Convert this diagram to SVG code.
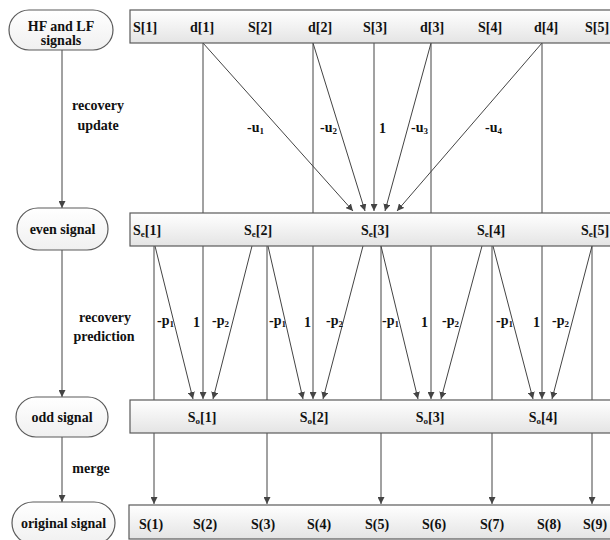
<svg xmlns="http://www.w3.org/2000/svg" width="610" height="540" viewBox="0 0 610 540">
<defs>
<linearGradient id="gb" x1="0" y1="0" x2="0" y2="1"><stop offset="0" stop-color="#ffffff"/><stop offset="1" stop-color="#e4e4e4"/></linearGradient>
<linearGradient id="gp" x1="0" y1="0" x2="0" y2="1"><stop offset="0" stop-color="#ffffff"/><stop offset="1" stop-color="#f0f0f0"/></linearGradient>
<marker id="ar" viewBox="0 0 10 10" refX="10" refY="5" markerWidth="7" markerHeight="7" markerUnits="userSpaceOnUse" orient="auto"><path d="M0,0 L10,5 L0,10 z" fill="#444"/></marker>
<style>
.bar{fill:url(#gb);stroke:#5a5a5a;stroke-width:1.2}
.pill{fill:url(#gp);stroke:#5a5a5a;stroke-width:1.2}
.t{font-family:"Liberation Serif","Times New Roman",serif;font-weight:bold;font-size:14px;fill:#111}
.m{text-anchor:middle}
.sub{font-size:9px}
.c line{stroke:#444;stroke-width:1}
.c .a{marker-end:url(#ar)}
</style>
</defs>

<g id="connectors" class="c">
<line class="a" x1="62" y1="50" x2="62" y2="208"/>
<line class="a" x1="62" y1="250" x2="62" y2="397"/>
<line class="a" x1="62" y1="437" x2="62" y2="502"/>
<line x1="203" y1="43" x2="203" y2="213"/>
<line x1="313" y1="43" x2="313" y2="213"/>
<line x1="431" y1="43" x2="431" y2="213"/>
<line x1="542" y1="43" x2="542" y2="213"/>
<line class="a" x1="203" y1="43" x2="353" y2="211"/>
<line class="a" x1="313" y1="43" x2="365" y2="211"/>
<line class="a" x1="374" y1="43" x2="374" y2="211"/>
<line class="a" x1="431" y1="43" x2="385" y2="211"/>
<line class="a" x1="542" y1="43" x2="397" y2="211"/>
<line class="a" x1="203" y1="246" x2="203" y2="399"/>
<line class="a" x1="313" y1="246" x2="313" y2="399"/>
<line class="a" x1="431" y1="246" x2="431" y2="399"/>
<line class="a" x1="542" y1="246" x2="542" y2="399"/>
<line class="a" x1="155" y1="246" x2="193" y2="399"/>
<line class="a" x1="252" y1="246" x2="213" y2="399"/>
<line class="a" x1="268" y1="246" x2="303" y2="399"/>
<line class="a" x1="363" y1="246" x2="323" y2="399"/>
<line class="a" x1="381" y1="246" x2="418" y2="399"/>
<line class="a" x1="482" y1="246" x2="441" y2="399"/>
<line class="a" x1="493" y1="246" x2="533" y2="399"/>
<line class="a" x1="592" y1="246" x2="552" y2="399"/>
<line class="a" x1="154" y1="246" x2="154" y2="504"/>
<line class="a" x1="267" y1="246" x2="267" y2="504"/>
<line class="a" x1="381" y1="246" x2="381" y2="504"/>
<line class="a" x1="492" y1="246" x2="492" y2="504"/>
<line class="a" x1="592" y1="246" x2="592" y2="504"/>
</g>

<g id="connector-labels">
<text class="t m" x="98" y="110">recovery</text>
<text class="t m" x="98" y="130">update</text>
<text class="t m" x="105" y="322">recovery</text>
<text class="t m" x="104" y="341">prediction</text>
<text class="t m" x="91" y="473">merge</text>
<text class="t" x="247" y="132">-u<tspan class="sub" dy="2">1</tspan></text>
<text class="t" x="320" y="132">-u<tspan class="sub" dy="2">2</tspan></text>
<text class="t" x="379" y="133">1</text>
<text class="t" x="411" y="132">-u<tspan class="sub" dy="2">3</tspan></text>
<text class="t" x="485" y="132">-u<tspan class="sub" dy="2">4</tspan></text>
<text class="t" x="157" y="325">-p<tspan class="sub" dy="2">1</tspan></text>
<text class="t" x="193" y="327">1</text>
<text class="t" x="212" y="325">-p<tspan class="sub" dy="2">2</tspan></text>
<text class="t" x="269" y="325">-p<tspan class="sub" dy="2">1</tspan></text>
<text class="t" x="304" y="327">1</text>
<text class="t" x="326" y="325">-p<tspan class="sub" dy="2">2</tspan></text>
<text class="t" x="382" y="325">-p<tspan class="sub" dy="2">1</tspan></text>
<text class="t" x="421" y="327">1</text>
<text class="t" x="442" y="325">-p<tspan class="sub" dy="2">2</tspan></text>
<text class="t" x="496" y="325">-p<tspan class="sub" dy="2">1</tspan></text>
<text class="t" x="533" y="327">1</text>
<text class="t" x="552" y="325">-p<tspan class="sub" dy="2">2</tspan></text>
</g>

<g id="hf-lf-signals">
<rect class="pill" x="9" y="10" width="104" height="40" rx="20"/>
<text class="t m" x="61" y="31">HF and LF</text>
<text class="t m" x="61" y="45">signals</text>
</g>
<g id="even-signal">
<rect class="pill" x="17" y="208" width="91" height="42" rx="21"/>
<text class="t m" x="62.5" y="234">even signal</text>
</g>
<g id="odd-signal">
<rect class="pill" x="16" y="397" width="92" height="40" rx="20"/>
<text class="t m" x="62" y="422">odd signal</text>
</g>
<g id="original-signal">
<rect class="pill" x="12" y="502" width="103" height="42" rx="21"/>
<text class="t m" x="63.5" y="528">original signal</text>
</g>

<g id="hf-lf-bar">
<rect class="bar" x="130" y="10" width="490" height="33"/>
<text class="t m" x="145" y="32">S[1]</text>
<text class="t m" x="202" y="32">d[1]</text>
<text class="t m" x="260" y="32">S[2]</text>
<text class="t m" x="320" y="32">d[2]</text>
<text class="t m" x="375" y="32">S[3]</text>
<text class="t m" x="432" y="32">d[3]</text>
<text class="t m" x="490" y="32">S[4]</text>
<text class="t m" x="546" y="32">d[4]</text>
<text class="t" x="585" y="32">S[5]</text>
</g>
<g id="even-bar">
<rect class="bar" x="130" y="213" width="490" height="33"/>
<text class="t m" x="147" y="235">S<tspan class="sub" dy="2">e</tspan><tspan dy="-2">[1]</tspan></text>
<text class="t m" x="258" y="235">S<tspan class="sub" dy="2">e</tspan><tspan dy="-2">[2]</tspan></text>
<text class="t m" x="375" y="235">S<tspan class="sub" dy="2">e</tspan><tspan dy="-2">[3]</tspan></text>
<text class="t m" x="491" y="235">S<tspan class="sub" dy="2">e</tspan><tspan dy="-2">[4]</tspan></text>
<text class="t" x="581" y="235">S<tspan class="sub" dy="2">e</tspan><tspan dy="-2">[5]</tspan></text>
</g>
<g id="odd-bar">
<rect class="bar" x="130" y="400" width="490" height="33"/>
<text class="t m" x="202" y="422">S<tspan class="sub" dy="2">o</tspan><tspan dy="-2">[1]</tspan></text>
<text class="t m" x="314" y="422">S<tspan class="sub" dy="2">o</tspan><tspan dy="-2">[2]</tspan></text>
<text class="t m" x="430" y="422">S<tspan class="sub" dy="2">o</tspan><tspan dy="-2">[3]</tspan></text>
<text class="t m" x="543" y="422">S<tspan class="sub" dy="2">o</tspan><tspan dy="-2">[4]</tspan></text>
</g>
<g id="original-bar">
<rect class="bar" x="129" y="505" width="491" height="34"/>
<text class="t m" x="151" y="529">S(1)</text>
<text class="t m" x="205" y="529">S(2)</text>
<text class="t m" x="263" y="529">S(3)</text>
<text class="t m" x="319" y="529">S(4)</text>
<text class="t m" x="377" y="529">S(5)</text>
<text class="t m" x="434" y="529">S(6)</text>
<text class="t m" x="492" y="529">S(7)</text>
<text class="t m" x="549" y="529">S(8)</text>
<text class="t m" x="595" y="529">S(9)</text>
</g>
</svg>
